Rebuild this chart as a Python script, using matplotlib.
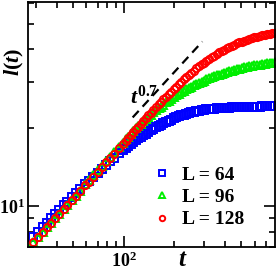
import numpy as np
import matplotlib
matplotlib.use("Agg")
import matplotlib.pyplot as plt
from matplotlib.ticker import FixedLocator, NullFormatter

plt.rcParams['font.family'] = 'Liberation Serif'
plt.rcParams['font.weight'] = 'bold'
plt.rcParams['mathtext.fontset'] = 'custom'
plt.rcParams['mathtext.rm'] = 'Liberation Serif:bold'
plt.rcParams['mathtext.bf'] = 'Liberation Serif:bold'
plt.rcParams['mathtext.it'] = 'Liberation Serif:italic:bold'

# time grid
t = [29, 31, 33, 35, 37, 39, 41, 44, 46, 49, 52, 55, 59, 62, 66, 70, 74, 79, 83, 88, 94,
     99, 103, 106, 110, 114, 118, 122, 126, 131, 135, 140, 145, 150, 155, 161, 166,
     172, 178, 185, 191, 198, 205, 212, 220, 227, 235, 244, 252, 261, 270, 280, 290,
     300, 310, 321, 333, 344, 356, 369, 382, 395, 409, 424, 438, 454, 470, 486, 503,
     521, 539, 558, 578, 598, 619, 641, 663, 686, 710, 735, 761, 788]

l_64 = [7.62, 7.98, 8.33, 8.68, 9.01, 9.34, 9.66, 10.12, 10.40, 10.83, 11.23, 11.62,
        12.15, 12.52, 13.01, 13.47, 13.92, 14.45, 14.87, 15.37, 15.95,
        16.4, 16.75, 17.0, 17.3, 17.6, 17.9, 18.2, 18.45, 18.75, 19.0, 19.3, 19.55,
        19.8, 20.05, 20.35, 20.55, 20.8, 21.05, 21.3, 21.5, 21.75, 21.95, 22.1, 22.3,
        22.45, 22.6, 22.75, 22.9, 23.0, 23.15, 23.25, 23.35, 23.4, 23.5, 23.55, 23.6,
        23.65, 23.7, 23.75, 23.8, 23.83, 23.86, 23.89, 23.92, 23.95, 23.97, 24.0,
        24.02, 24.04, 24.05, 24.07, 24.08, 24.09, 24.1, 24.11, 24.12, 24.13, 24.14,
        24.15, 24.15, 24.16]

l_96 = [7.32, 7.67, 8.01, 8.35, 8.68, 9.00, 9.32, 9.80, 10.10, 10.56, 11.01, 11.45,
        12.20, 12.64, 13.21, 13.76, 14.31, 14.98, 15.51, 16.15, 16.92,
        17.55, 18.1, 18.5, 19.0, 19.45, 19.9, 20.3, 20.7, 21.2, 21.6, 22.0, 22.45,
        22.9, 23.3, 23.75, 24.1, 24.5, 25.0, 25.4, 25.8, 26.2, 26.6, 27.0, 27.4,
        27.7, 28.1, 28.45, 28.75, 29.1, 29.4, 29.75, 30.0, 30.3, 30.6, 30.95, 31.2,
        31.45, 31.7, 31.95, 32.2, 32.4, 32.65, 32.85, 33.05, 33.3, 33.45, 33.65,
        33.8, 34.0, 34.15, 34.3, 34.45, 34.6, 34.75, 34.85, 35.0, 35.1, 35.25,
        35.35, 35.45, 35.55]

l_128 = [7.32, 7.67, 8.01, 8.35, 8.68, 9.00, 9.32, 9.80, 10.10, 10.56, 11.01, 11.45,
         12.03, 12.45, 13.01, 13.56, 14.10, 14.76, 15.28, 15.91, 16.67,
         17.3, 17.85, 18.25, 18.75, 19.25, 19.7, 20.2, 20.7, 21.3, 21.75, 22.3, 22.85,
         23.4, 23.95, 24.6, 25.1, 25.7, 26.3, 26.95, 27.5, 28.1, 28.75, 29.3, 30.0,
         30.6, 31.2, 31.9, 32.5, 33.1, 33.7, 34.3, 34.9, 35.5, 36.0, 36.6, 37.2,
         37.7, 38.2, 38.8, 39.3, 39.8, 40.3, 40.8, 41.2, 41.6, 42.0, 42.4,
         42.7, 43.1, 43.4, 43.7, 44.0, 44.3, 44.6, 44.9, 45.1, 45.4, 45.6,
         45.8, 46.0, 46.2]

# guide line t^0.7
guide_t = [113, 293]
guide_l = [21.9, 42.7]

fig = plt.figure(figsize=(2.78, 2.71), dpi=100)
ax = fig.add_axes([0.1007, 0.0886, 0.888, 0.904])

ms = 5.2
ax.plot(t, l_64, linestyle='none', marker='s', ms=ms, mfc='none', mec='#0000ff', mew=1.4, label='L = 64')
ax.plot(t, l_96, linestyle='none', marker='^', ms=ms, mfc='none', mec='#00ee00', mew=1.4, label='L = 96')
ax.plot(t, l_128, linestyle='none', marker='o', ms=ms, mfc='none', mec='#ff0000', mew=1.4, label='L = 128')

ax.plot(guide_t, guide_l, color='black', lw=1.6, dashes=(4, 2.6))
ax.text(108.5, 24.6, r'$t^{0.7}$', fontsize=16, ha='left', va='baseline')

ax.set_xscale('log')
ax.set_yscale('log')
ax.set_xlim(27, 790)
ax.set_ylim(7.0, 60.5)

ax.xaxis.set_major_locator(FixedLocator([100]))
ax.xaxis.set_minor_locator(FixedLocator([30, 40, 50, 60, 70, 80, 90, 200, 300, 400, 500, 600, 700]))
ax.yaxis.set_major_locator(FixedLocator([10]))
ax.yaxis.set_minor_locator(FixedLocator([7, 8, 9, 20, 30, 40, 50, 60]))
ax.set_xticklabels([r'$\mathbf{10^{2}}$'])
ax.set_yticklabels([r'$\mathbf{10^{1}}$'])
ax.xaxis.set_minor_formatter(NullFormatter())
ax.yaxis.set_minor_formatter(NullFormatter())

ax.tick_params(which='both', direction='in', top=True, right=True, width=1.2, labelsize=13)
ax.tick_params(which='major', length=8)
ax.tick_params(which='minor', length=4)
ax.tick_params(axis='x', which='major', pad=3)
ax.tick_params(axis='y', which='major', pad=2)
for s in ax.spines.values():
    s.set_linewidth(1.3)

ax.set_xlabel(r'$t$', fontsize=18)
ax.xaxis.set_label_coords(0.627, -0.01)
ax.set_ylabel(r'$l(t)$', fontsize=16)
ax.yaxis.set_label_coords(-0.01, 0.755)

ax.legend(loc='lower right', bbox_to_anchor=(0.93, 0.02), frameon=False, numpoints=1,
          fontsize=14, handlelength=0.8, handletextpad=0.6, labelspacing=0.25,
          borderpad=0.2, markerscale=0.75)

fig.savefig('out.png', dpi=100)
